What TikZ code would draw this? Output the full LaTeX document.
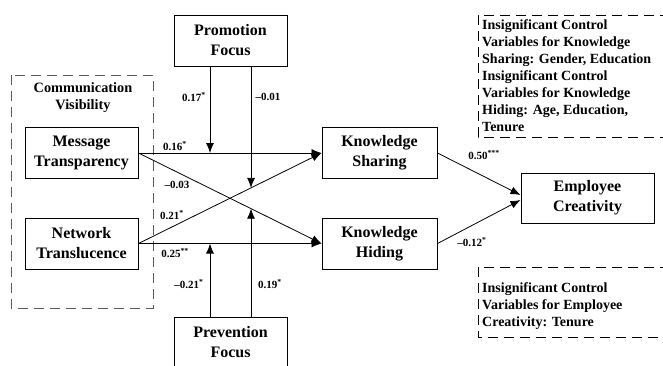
\documentclass[tikz,border=0pt]{standalone}
\usepackage{fontspec}
\setmainfont{Liberation Serif}
\usetikzlibrary{arrows.meta}
\tikzset{>={Latex[length=10pt,width=8pt]}}
\tikzset{
  var/.style={draw, line width=1pt, minimum width=113pt, minimum height=51pt, inner sep=0pt,
    align=center, font=\fontsize{16}{20}\selectfont\bfseries},
  coef/.style={inner sep=0pt, font=\fontsize{11}{12}\selectfont\bfseries},
  effect/.style={->, line width=0.8pt},
  ctrl/.style={align=left, anchor=north west, inner sep=0pt, font=\fontsize{14}{17}\selectfont\bfseries},
  ctrlbox/.style={line width=0.8pt, dash pattern=on 10pt off 6pt},
}

\begin{document}
\begin{tikzpicture}[x=1pt,y=-1pt]
            \useasboundingbox (0,0) rectangle (663,365);
            % grouping of the two visibility dimensions
            \draw[ctrlbox, black!65] (11,75) rectangle (153,308);
            \node[align=center, font=\fontsize{14.3}{17}\selectfont\bfseries] (comm) at (83,98) {Communication\\Visibility};
            % variables
            \node[var] (promo) at (230.5,40.5) {Promotion\\Focus};
            \node[var] (prev) at (230.5,342.5) {Prevention\\Focus};
            \node[var] (msg) at (81.5,153) {Message\\Transparency};
            \node[var] (net) at (81.5,243.5) {Network\\Translucence};
            \node[var, minimum width=115pt] (share) at (379.5,153) {Knowledge\\Sharing};
            \node[var, minimum width=115pt] (hide) at (379.5,243.5) {Knowledge\\Hiding};
            \node[var, minimum width=133pt, minimum height=50pt] (creat) at (587.5,198) {Employee\\Creativity};
            % main effects
            \draw[effect] (msg.east) -- (share.west);
            \draw[effect] (msg.east) -- (hide.west);
            \draw[effect] (net.east) -- (share.west);
            \draw[effect] (net.east) -- (hide.west);
            \draw[effect] (share.east) -- ([yshift=3pt]creat.west);
            \draw[effect] (hide.east) -- ([yshift=-2pt]creat.west);
            % moderation
            \coordinate (m1) at (210,153);
            \coordinate (m2) at (intersection of net.east--share.west and 251,0--251,365);
            \coordinate (m3) at (intersection of msg.east--hide.west and 251,0--251,365);
            \coordinate (m4) at (210,243.5);
            \draw[effect] (promo.south -| m1) -- (m1);
            \draw[effect] (promo.south -| m2) -- (m2);
            \draw[effect] (prev.north -| m3) -- (m3);
            \draw[effect] (prev.north -| m4) -- (m4);
            % coefficients
            \node[coef] (c1) at (194,97) {0.17\textsuperscript{*}};
            \node[coef] (c2) at (268,97) {–0.01};
            \node[coef] (c3) at (175,146) {0.16\textsuperscript{*}};
            \node[coef] (c4) at (177,185) {–0.03};
            \node[coef] (c5) at (172,215) {0.21\textsuperscript{*}};
            \node[coef] (c6) at (175,253) {0.25\textsuperscript{**}};
            \node[coef] (c7) at (189,284) {–0.21\textsuperscript{*}};
            \node[coef] (c8) at (270,284) {0.19\textsuperscript{*}};
            \node[coef] (c9) at (484,155) {0.50\textsuperscript{***}};
            \node[coef] (c10) at (472,242) {–0.12\textsuperscript{*}};
            % control variables
            \draw[ctrlbox] (670,15) -- (478,15) -- (478,137) -- (670,137);
            \node[ctrl] (ctrl1) at (482,19) {Insignificant Control\\Variables for Knowledge\\Sharing: Gender, Education\\Insignificant Control\\Variables for Knowledge\\Hiding: Age, Education,\\Tenure};
            \draw[ctrlbox] (670,267) -- (478,267) -- (478,337) -- (670,337);
            \node[ctrl] (ctrl2) at (482,282) {Insignificant Control\\Variables for Employee\\Creativity: Tenure};
        \end{tikzpicture}
\end{document}
